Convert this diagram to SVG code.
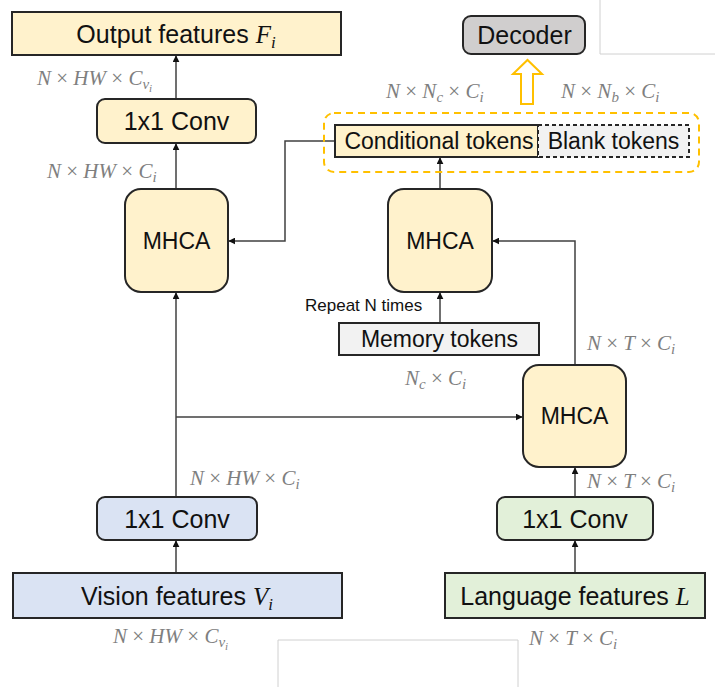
<svg xmlns="http://www.w3.org/2000/svg" width="715" height="687" viewBox="0 0 715 687">
  <style>
    .box { stroke: #262626; stroke-width: 2; }
    .yel { fill: #FFF2CC; }
    .blue { fill: #DAE3F3; }
    .green { fill: #E2F0D9; }
    .grey { fill: #F2F2F2; }
    .lbl { font-family: "Liberation Sans", Arial, sans-serif; fill: #111; text-anchor: middle; }
    .big { font-size: 25px; }
    .mid { font-size: 23px; }
    .var { font-family: "Liberation Serif", "DejaVu Serif", serif; font-style: italic; }
    .math { font-family: "Liberation Serif", "DejaVu Serif", serif; font-style: italic; fill: #7F7F7F; font-size: 21px; }
    .up { font-style: normal; }
    .wire { fill: none; stroke: #404040; stroke-width: 1.5; }
    .frame { fill: none; stroke: #D0D0D0; stroke-width: 1; }
  </style>
  <defs>
    <marker id="arr" viewBox="0 0 10 10" refX="9" refY="5" markerWidth="7" markerHeight="7" markerUnits="userSpaceOnUse" orient="auto">
      <path d="M0,0 L10,5 L0,10 z" fill="#111"/>
    </marker>
  </defs>

  <rect width="715" height="687" fill="#fff"/>

  <!-- thin frame lines at the corners -->
  <path class="frame" d="M600,0 V54 H715"/>
  <path class="frame" d="M278,687 V640 H518 V687"/>

  <!-- connectors -->
  <g id="connectors">
    <line class="wire" x1="176" y1="99" x2="176" y2="56" marker-end="url(#arr)"/>
    <line class="wire" x1="176" y1="189" x2="176" y2="144" marker-end="url(#arr)"/>
    <polyline class="wire" points="335,141 285,141 285,241 229,241" marker-end="url(#arr)"/>
    <line class="wire" x1="176" y1="497" x2="176" y2="293" marker-end="url(#arr)"/>
    <line class="wire" x1="176" y1="573" x2="176" y2="541" marker-end="url(#arr)"/>
    <line class="wire" x1="176" y1="417" x2="522" y2="417" marker-end="url(#arr)"/>
    <line class="wire" x1="440" y1="189" x2="440" y2="158" marker-end="url(#arr)"/>
    <line class="wire" x1="440" y1="323" x2="440" y2="293" marker-end="url(#arr)"/>
    <polyline class="wire" points="575,365 575,241 493,241" marker-end="url(#arr)"/>
    <line class="wire" x1="575" y1="497" x2="575" y2="468" marker-end="url(#arr)"/>
    <line class="wire" x1="575" y1="573" x2="575" y2="541" marker-end="url(#arr)"/>
    <!-- hollow arrow to the decoder -->
    <path d="M521,104 V74 H513 L527.5,60 L542,74 H533 V104 Z" fill="#fff" stroke="#FFC000" stroke-width="2"/>
  </g>

  <!-- token group outline -->
  <rect x="324" y="113" width="375" height="59" rx="10" fill="none" stroke="#FFC000" stroke-width="2" stroke-dasharray="7,5"/>

  <g id="output-features">
    <rect class="box yel" x="12" y="12" width="329" height="43"/>
    <text class="lbl big" x="176" y="43">Output features <tspan class="var">F</tspan><tspan class="var" font-size="17" dy="5">i</tspan></text>
  </g>

  <g id="conv-out">
    <rect class="box yel" x="97" y="99" width="159" height="44" rx="8"/>
    <text class="lbl big" x="176.5" y="130">1x1 Conv</text>
  </g>

  <g id="mhca-left">
    <rect class="box yel" x="125" y="189" width="103" height="103" rx="16"/>
    <text class="lbl mid" x="176.5" y="249">MHCA</text>
  </g>

  <g id="decoder">
    <rect x="463" y="16" width="122" height="38" rx="8" fill="#D0CECE" stroke="#262626" stroke-width="2"/>
    <text class="lbl big" x="524.5" y="44">Decoder</text>
  </g>

  <g id="conditional-tokens">
    <rect class="box yel" x="335" y="125" width="203" height="32"/>
    <text class="lbl mid" x="439" y="149">Conditional tokens</text>
  </g>

  <g id="blank-tokens">
    <rect x="538" y="125" width="151" height="32" fill="#F2F2F2" stroke="#262626" stroke-width="2" stroke-dasharray="4,3"/>
    <text class="lbl mid" x="613.5" y="149">Blank tokens</text>
  </g>

  <g id="mhca-mid">
    <rect class="box yel" x="388" y="189" width="104" height="103" rx="16"/>
    <text class="lbl mid" x="440" y="249">MHCA</text>
  </g>

  <g id="memory-tokens">
    <rect class="box grey" x="339" y="323" width="200" height="32"/>
    <text class="lbl mid" x="439.5" y="347">Memory tokens</text>
  </g>

  <g id="mhca-right">
    <rect class="box yel" x="523" y="365" width="103" height="102" rx="16"/>
    <text class="lbl mid" x="574.5" y="424">MHCA</text>
  </g>

  <g id="conv-vision">
    <rect class="box blue" x="97" y="497" width="160" height="43" rx="8"/>
    <text class="lbl big" x="177" y="528">1x1 Conv</text>
  </g>

  <g id="vision-features">
    <rect class="box blue" x="13" y="573" width="329" height="45"/>
    <text class="lbl big" x="177" y="605">Vision features <tspan class="var">V</tspan><tspan class="var" font-size="17" dy="5">i</tspan></text>
  </g>

  <g id="conv-language">
    <rect class="box green" x="497" y="497" width="156" height="43" rx="8"/>
    <text class="lbl big" x="575" y="528">1x1 Conv</text>
  </g>

  <g id="language-features">
    <rect class="box green" x="445" y="573" width="260" height="45"/>
    <text class="lbl big" x="575" y="605">Language features <tspan class="var">L</tspan></text>
  </g>

  <!-- plain caption -->
  <text x="305" y="311" font-family="Liberation Sans, Arial, sans-serif" font-size="17" fill="#111">Repeat N times</text>

  <!-- tensor shape labels -->
  <g id="shape-labels">
    <text class="math" x="37" y="85">N <tspan class="up">×</tspan> HW <tspan class="up">×</tspan> C<tspan font-size="15" dy="4">v</tspan><tspan font-size="11" dy="3">i</tspan></text>
    <text class="math" x="47" y="178">N <tspan class="up">×</tspan> HW <tspan class="up">×</tspan> C<tspan font-size="15" dy="4">i</tspan></text>
    <text class="math" x="386" y="98">N <tspan class="up">×</tspan> N<tspan font-size="15" dy="4">c</tspan><tspan dy="-4"> </tspan><tspan class="up">×</tspan> C<tspan font-size="15" dy="4">i</tspan></text>
    <text class="math" x="561" y="98">N <tspan class="up">×</tspan> N<tspan font-size="15" dy="4">b</tspan><tspan dy="-4"> </tspan><tspan class="up">×</tspan> C<tspan font-size="15" dy="4">i</tspan></text>
    <text class="math" x="405" y="385">N<tspan font-size="15" dy="4">c</tspan><tspan dy="-4"> </tspan><tspan class="up">×</tspan> C<tspan font-size="15" dy="4">i</tspan></text>
    <text class="math" x="587" y="350">N <tspan class="up">×</tspan> T <tspan class="up">×</tspan> C<tspan font-size="15" dy="4">i</tspan></text>
    <text class="math" x="587" y="488">N <tspan class="up">×</tspan> T <tspan class="up">×</tspan> C<tspan font-size="15" dy="4">i</tspan></text>
    <text class="math" x="190" y="485">N <tspan class="up">×</tspan> HW <tspan class="up">×</tspan> C<tspan font-size="15" dy="4">i</tspan></text>
    <text class="math" x="113" y="643">N <tspan class="up">×</tspan> HW <tspan class="up">×</tspan> C<tspan font-size="15" dy="4">v</tspan><tspan font-size="11" dy="3">i</tspan></text>
    <text class="math" x="529" y="645">N <tspan class="up">×</tspan> T <tspan class="up">×</tspan> C<tspan font-size="15" dy="4">i</tspan></text>
  </g>
</svg>
